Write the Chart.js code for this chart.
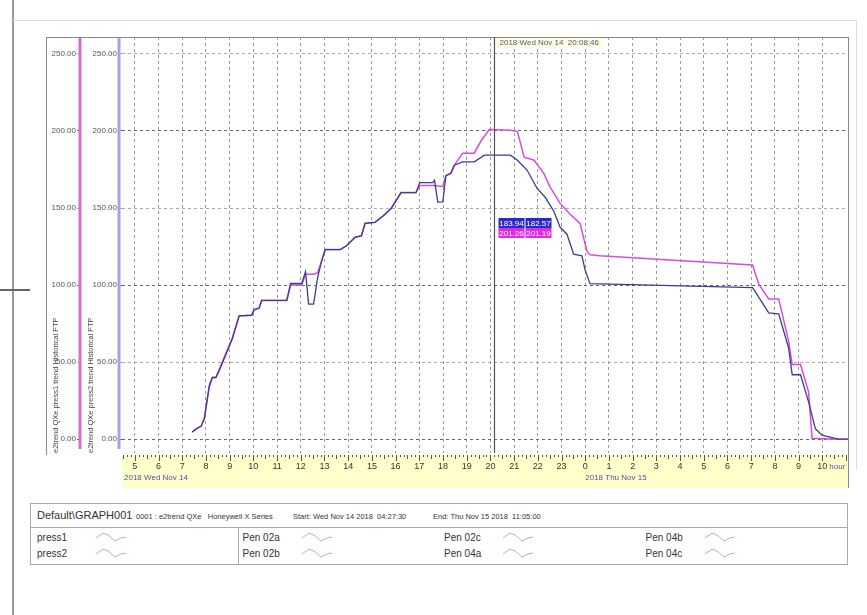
<!DOCTYPE html>
<html>
<head>
<meta charset="utf-8">
<script src="https://cdn.jsdelivr.net/npm/chart.js@4.4.1/dist/chart.umd.min.js"></script>
<style>
  body { margin: 0; background: #fff; font-family: Arial, "Liberation Sans", sans-serif; }
  #wrap { position: relative; width: 867px; height: 615px; overflow: hidden; }
  #chart { position: absolute; left: 0; top: 0; }
  #edge { position: absolute; left: 12px; top: 0; width: 2px; height: 615px; background: #999; }
  .legend { position: absolute; left: 30px; top: 503px; width: 818px; height: 62px; border: 1px solid #aaa; box-sizing: border-box; color: #333; }
  .legend .head { position: absolute; left: 0; top: 0; right: 0; height: 23px; border-bottom: 1px solid #aaa; }
  .legend span { position: absolute; white-space: nowrap; }
  .legend .sm { font-size: 7.5px; top: 8px; }
  .legend .pen { font-size: 10px; }
  .legend svg { position: absolute; }
  .legend .sep { position: absolute; left: 207px; top: 24px; bottom: 0; border-left: 1px solid #aaa; }
</style>
</head>
<body>
<div id="wrap">
  <div id="edge"></div>
  <canvas id="chart" width="867" height="500"></canvas>
  <div class="legend" id="legend">
    <div class="head">
      <span style="left:6px;top:5px;font-size:11px;">Default\GRAPH001</span>
      <span class="sm" style="left:105px;">0001 : e2trend QXe &nbsp; Honeywell X Series</span>
      <span class="sm" style="left:262px;">Start: Wed Nov 14 2018 &nbsp;04:27:30</span>
      <span class="sm" style="left:402px;">End: Thu Nov 15 2018 &nbsp;11:05:00</span>
    </div>
    <div class="sep"></div>
  </div>
</div>
<script>
// time in hours from midnight Nov 14, values
const press1Hours = [
  7.42, 7.59, 7.80, 7.93, 8.14, 8.27, 8.42, 8.63, 9.11, 9.40,
  9.93, 10.03, 10.24, 10.35, 11.41, 11.57, 12.04, 12.20, 12.54, 12.71,
  12.88, 13.03, 13.66, 13.93, 14.29, 14.56, 14.71, 15.13, 15.48, 15.81,
  16.23, 16.86, 17.02, 17.57, 17.99, 18.12, 18.33, 18.48, 18.83, 19.32,
  19.58, 19.95, 20.84, 21.14, 21.42, 21.84, 22.25, 22.52, 22.94, 23.36,
  23.78, 24.07, 24.20, 24.61, 31.06, 31.32, 31.74, 32.16, 32.58, 32.73,
  33.08, 33.42, 33.57, 34.67, 35.08
];
const press1Values = [
  4.6, 6.7, 8.5, 13.3, 35, 40, 40, 48, 65.6, 80,
  80.4, 84, 85, 90, 90, 100, 100, 107, 107, 108,
  115.7, 123, 123, 125.5, 131, 132, 140, 140.7, 145, 149.7,
  160, 160, 164.6, 164.6, 164, 171, 172.5, 177.8, 185.6, 185.6,
  193, 201, 200.5, 199.6, 183, 181, 172.5, 163.6, 153, 146,
  140, 122, 119.6, 119, 113, 100.6, 91, 91, 63.4, 48.4,
  48.4, 30.7, 0.5, 0, 0
];
const press2Hours = [
  7.42, 7.59, 7.80, 7.93, 8.14, 8.27, 8.42, 8.63, 9.11, 9.40,
  9.93, 10.03, 10.24, 10.35, 11.41, 11.57, 12.04, 12.20, 12.33, 12.54,
  12.71, 12.88, 13.03, 13.66, 13.93, 14.29, 14.56, 14.71, 15.13, 15.48,
  15.81, 16.23, 16.86, 17.02, 17.57, 17.64, 17.78, 17.99, 18.12, 18.33,
  18.48, 18.83, 19.32, 19.74, 20.84, 21.14, 21.55, 21.97, 22.31, 22.67,
  22.94, 23.23, 23.51, 23.86, 23.99, 24.20, 31.06, 31.74, 32.16, 32.58,
  32.73, 33.08, 33.42, 33.71, 33.99, 34.67, 35.08
];
const press2Values = [
  4.6, 6.7, 8.5, 13.3, 34, 40, 40, 47, 65, 80,
  80.4, 84, 85, 90, 90, 101, 101, 108.7, 87.6, 87.6,
  104.8, 115.7, 123, 123, 125.5, 131, 132, 140, 140.7, 145,
  149.7, 160, 160, 166.5, 166.5, 168, 153.8, 154, 171, 172.5,
  177.8, 180, 180, 184.3, 184.3, 181, 174.5, 162.7, 157, 148,
  137.5, 133, 120, 119, 110, 100.9, 98.3, 82, 81.3, 59,
  41.8, 41.8, 24.2, 6.7, 2.6, 0, 0
];
const yTicks = [0, 50, 100, 150, 200, 250];
const hourTicks = [];
for (let h = 5; h <= 34; h++) hourTicks.push(h);

const startHour = 4 + 27.5 / 60;     // 04:27:30
const endHour = 24 + 11 + 5 / 60;    // 11:05:00 next day
const cursorHour = 20 + 8 / 60 + 46 / 3600;
const cursorText = "2018 Wed Nov 14  20:08:46";
const cursorBlue = ["183.94", "182.57"];
const cursorPink = ["201.26", "201.19"];

const penNames = [["press1", "press2"], ["Pen 02a", "Pen 02b"], ["Pen 02c", "Pen 04a"], ["Pen 04b", "Pen 04c"]];

// legend pens
var legend = document.getElementById("legend");
penNames.forEach((pair, col) => {
  pair.forEach((name, row) => {
    var left = 6 + col * 201.5 + (col > 0 ? 4 : 0);
    var top = 28 + row * 16;
    var s = document.createElement("span");
    s.className = "pen";
    s.style.left = left + "px";
    s.style.top = top + "px";
    s.textContent = name;
    legend.appendChild(s);
    var svg = document.createElementNS("http://www.w3.org/2000/svg", "svg");
    svg.setAttribute("width", "32");
    svg.setAttribute("height", "12");
    svg.style.left = (left + 58) + "px";
    svg.style.top = (top - 1) + "px";
    svg.innerHTML = '<polyline points="1,7 8,2 13,4 20,10 26,7 31,6" fill="none" stroke="#c8a8c8" stroke-width="1"/>';
    legend.appendChild(svg);
  });
});

function toPoints(xs, ys) {
  return xs.map((x, i) => ({ x: x, y: ys[i] }));
}

const FONT = 'Arial, "Liberation Sans", sans-serif';

const decor = {
  id: "decor",
  beforeDraw(chart) {
    const ctx = chart.ctx;
    const a = chart.chartArea;
    ctx.save();
    // yellow time strip
    ctx.fillStyle = "#ffffcc";
    ctx.fillRect(a.left, a.bottom + 2, a.right - a.left, 33);
    // outer window lines
    ctx.strokeStyle = "#ddd";
    ctx.lineWidth = 1;
    ctx.beginPath();
    ctx.moveTo(13, 20.5); ctx.lineTo(856, 20.5);
    ctx.moveTo(856.5, 20); ctx.lineTo(856.5, 470);
    ctx.stroke();
    ctx.strokeStyle = "#666";
    ctx.lineWidth = 2;
    ctx.beginPath();
    ctx.moveTo(0, 290); ctx.lineTo(30, 290);
    ctx.stroke();
    ctx.restore();
  },
  afterDraw(chart) {
    const ctx = chart.ctx;
    const a = chart.chartArea;
    const xs = chart.scales.x;
    ctx.save();
    // panel frame
    ctx.strokeStyle = "#888";
    ctx.lineWidth = 1;
    ctx.beginPath();
    ctx.moveTo(46.5, a.top); ctx.lineTo(46.5, a.bottom + 2);
    ctx.moveTo(46, a.top + 0.5); ctx.lineTo(a.right, a.top + 0.5);
    ctx.moveTo(a.right + 0.5, a.top); ctx.lineTo(a.right + 0.5, a.bottom + 35);
    ctx.stroke();
    // coloured axis bars
    ctx.lineWidth = 3;
    ctx.strokeStyle = "#d070d0";
    ctx.beginPath(); ctx.moveTo(80, a.top + 1); ctx.lineTo(80, a.bottom - 4); ctx.stroke();
    ctx.strokeStyle = "#a4a4e4";
    ctx.beginPath(); ctx.moveTo(119, a.top + 1); ctx.lineTo(119, a.bottom - 4); ctx.stroke();
    // ticks on the time strip
    ctx.strokeStyle = "#555";
    ctx.lineWidth = 1;
    ctx.beginPath();
    for (let m = Math.ceil(startHour * 6); m <= endHour * 6; m++) {
      const px = Math.round(xs.getPixelForValue(m / 6)) + 0.5;
      const len = m % 6 === 0 ? 6 : (m % 3 === 0 ? 4 : 2);
      ctx.moveTo(px, a.bottom + 2);
      ctx.lineTo(px, a.bottom + 2 + len);
    }
    ctx.stroke();
    // date labels
    ctx.fillStyle = "#5050a0";
    ctx.font = "8px " + FONT;
    ctx.textBaseline = "middle";
    ctx.textAlign = "left";
    ctx.fillText("2018 Wed Nov 14", a.left + 2, a.bottom + 25);
    ctx.fillText("2018 Thu Nov 15", xs.getPixelForValue(24), a.bottom + 25);
    ctx.fillText("hour", xs.getPixelForValue(34) + 7, a.bottom + 14);
    // cursor
    const cx = Math.round(xs.getPixelForValue(cursorHour)) + 0.5;
    ctx.strokeStyle = "#555";
    ctx.lineWidth = 1.2;
    ctx.beginPath(); ctx.moveTo(cx, a.top); ctx.lineTo(cx, a.bottom); ctx.stroke();
    ctx.font = "8px " + FONT;
    const tw = ctx.measureText(cursorText).width;
    ctx.fillStyle = "#ffffdd";
    ctx.fillRect(cx + 2, a.top + 1, tw + 6, 10);
    ctx.fillStyle = "#5050a0";
    ctx.fillText(cursorText, cx + 5, a.top + 6);
    // cursor value boxes
    const by = 218;
    [[cursorBlue, "#2a2ac8"], [cursorPink, "#e22ae2"]].forEach(([vals, col], r) => {
      vals.forEach((v, i) => {
        const bx = cx + 4 + i * 27;
        ctx.fillStyle = col;
        ctx.fillRect(bx, by + r * 10, 26, 10);
        ctx.fillStyle = "#fff";
        ctx.textAlign = "center";
        ctx.fillText(v, bx + 13, by + r * 10 + 5.5);
      });
    });
    ctx.restore();
  }
};

function yAxis(title, weight, width, onArea) {
  return {
    type: "linear",
    position: "left",
    weight: weight,
    min: -9,
    max: 261,
    afterBuildTicks: s => { s.ticks = yTicks.map(v => ({ value: v })); },
    afterFit: s => { s.width = width; },
    ticks: {
      callback: v => v.toFixed(2),
      color: "#555",
      font: { size: 8, family: FONT },
      padding: 1
    },
    grid: {
      drawOnChartArea: onArea,
      color: ctx => (ctx.tick && ctx.tick.value % 100 === 0 ? "#666" : "#aaa"),
      tickLength: 4,
      lineWidth: 1
    },
    border: { display: false, dash: [3, 3] },
    title: {
      display: true,
      text: title,
      align: "start",
      color: "#444",
      font: { size: 7.5, family: FONT },
      padding: { top: 5, bottom: 0 }
    }
  };
}

new Chart(document.getElementById("chart"), {
  type: "line",
  data: {
    datasets: [
      {
        label: "press1",
        data: toPoints(press1Hours, press1Values),
        borderColor: "#d84cd8",
        borderWidth: 1.5,
        pointRadius: 0,
        tension: 0,
        yAxisID: "y1",
        order: 2
      },
      {
        label: "press2",
        data: toPoints(press2Hours, press2Values),
        borderColor: "#3c3c94",
        borderWidth: 1.3,
        pointRadius: 0,
        tension: 0,
        yAxisID: "y2",
        order: 1
      }
    ]
  },
  options: {
    responsive: false,
    animation: false,
    events: [],
    layout: { padding: { left: 46, top: 37, right: 19, bottom: 13 } },
    plugins: { legend: { display: false }, tooltip: { enabled: false } },
    scales: {
      x: {
        type: "linear",
        min: startHour,
        max: endHour,
        afterBuildTicks: s => { s.ticks = hourTicks.map(v => ({ value: v })); },
        afterFit: s => { s.height = 34; },
        ticks: {
          callback: v => String(v % 24),
          color: "#333",
          font: { size: 9, family: FONT },
          padding: 8,
          maxRotation: 0,
          autoSkip: false
        },
        grid: { color: "#999", drawTicks: false, lineWidth: 1 },
        border: { display: false, dash: [3, 3] }
      },
      y1: yAxis("e2trend QXe press1 trend Historical FTP", 2, 35, false),
      y2: yAxis("e2trend QXe press2 trend Historical FTP", 1, 41, true)
    }
  },
  plugins: [decor]
});
</script>
</body>
</html>
